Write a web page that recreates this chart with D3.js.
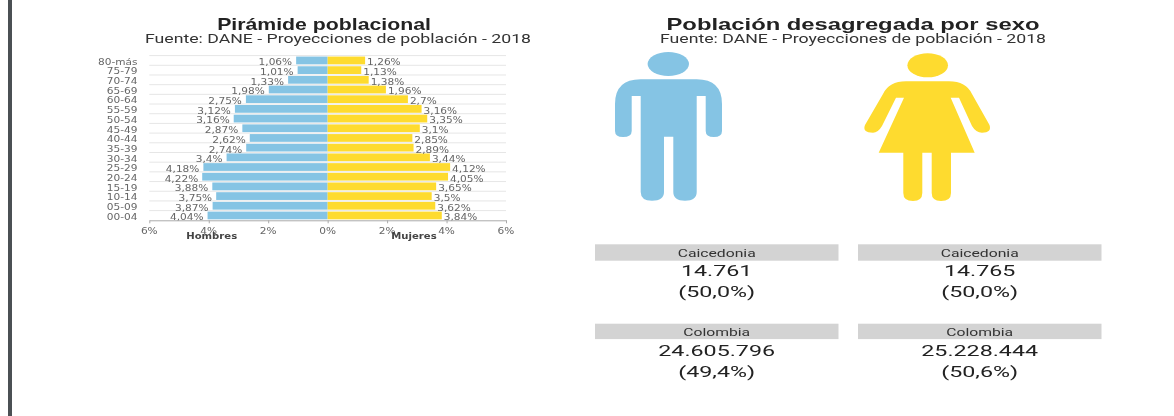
<!DOCTYPE html>
<html><head><meta charset="utf-8">
<script src="https://cdn.jsdelivr.net/npm/d3@7"></script>
<style>html,body{margin:0;padding:0;background:#fff;overflow:hidden}svg{display:block;filter:blur(.35px)}</style>
</head><body><svg id="c" width="1174" height="416"></svg>
<script>
const ageGroups=["80-más","75-79","70-74","65-69","60-64","55-59","50-54","45-49","40-44","35-39","30-34","25-29","20-24","15-19","10-14","05-09","00-04"];
const hombres=[1.06,1.01,1.33,1.98,2.75,3.12,3.16,2.87,2.62,2.74,3.4,4.18,4.22,3.88,3.75,3.87,4.04];
const mujeres=[1.26,1.13,1.38,1.96,2.7,3.16,3.35,3.1,2.85,2.89,3.44,4.12,4.05,3.65,3.5,3.62,3.84];
const xTicks=[-6,-4,-2,0,2,4,6];
const seriesNames=["Hombres","Mujeres"];
const cardLabels=["Caicedonia","Colombia"];
const hombresTotals=["14.761","24.605.796"];
const hombresPct=["(50,0%)","(49,4%)"];
const mujeresTotals=["14.765","25.228.444"];
const mujeresPct=["(50,0%)","(50,6%)"];
const titles=["Pirámide poblacional","Población desagregada por sexo"];
const subtitle="Fuente: DANE - Proyecciones de población - 2018";

const BLUE="#85c4e4",YEL="#fedb2f";
const svg=d3.select("#c");
const sans="Roboto",lab="'DejaVu Sans'";
function txt(g,s,x,y,o){
  const t=g.append("text").text(s).attr("x",x).attr("y",y)
    .attr("text-anchor",o.anchor||"middle").attr("font-family",o.font||sans)
    .attr("font-size",o.size).attr("font-weight",o.weight||400).attr("fill",o.fill||"#333");
  const n=t.node().getComputedTextLength();
  t.attr("textLength",n*(o.sx||1)).attr("lengthAdjust","spacingAndGlyphs");
  return t;
}
svg.append("rect").attr("x",8).attr("y",0).attr("width",4).attr("height",416).attr("fill","#4b5054");

const g=svg.append("g");
const x=d3.scaleLinear().domain([-6,6]).range([149.3,506]);
const y=d3.scaleBand().domain(ageGroups).range([55.6,220.3]).paddingInner(.2).paddingOuter(.1);
const step=y.step();
g.selectAll("line.g").data(ageGroups).join("line").attr("x1",x(-6)).attr("x2",x(6))
  .attr("y1",d=>y(d)-step*.1).attr("y2",d=>y(d)-step*.1).attr("stroke","#e6e6e6");
g.selectAll("rect.h").data(ageGroups).join("rect").attr("x",(d,i)=>x(-hombres[i])).attr("y",d=>y(d))
  .attr("width",(d,i)=>x(0)-x(-hombres[i])).attr("height",y.bandwidth()).attr("fill",BLUE);
g.selectAll("rect.m").data(ageGroups).join("rect").attr("x",x(0)).attr("y",d=>y(d))
  .attr("width",(d,i)=>x(mujeres[i])-x(0)).attr("height",y.bandwidth()).attr("fill",YEL);
const fmt=v=>String(v).replace(".",",")+"%";
const LS={size:8,font:lab,fill:"#666",sx:1.32};
ageGroups.forEach((d,i)=>{
  const cy=y(d)+y.bandwidth()/2+4.9;
  txt(g,d,137.5,cy-.6,{...LS,anchor:"end"});
  txt(g,fmt(hombres[i]),x(-hombres[i])-4,cy,{...LS,anchor:"end"});
  txt(g,fmt(mujeres[i]),x(mujeres[i])+2,cy,{...LS,anchor:"start"});
});
const axis=g.append("g").attr("transform","translate(0,220.3)")
  .call(d3.axisBottom(x).tickValues(xTicks).tickFormat(()=>"").tickSize(3).tickSizeOuter(0));
axis.selectAll("path,line").attr("stroke","#aaa");
xTicks.forEach(v=>txt(g,Math.abs(v)+"%",x(v),233.6,LS));
txt(g,seriesNames[0],211.7,238.8,{size:8,font:lab,weight:700,fill:"#444",sx:1.26});
txt(g,seriesNames[1],414,238.8,{size:8,font:lab,weight:700,fill:"#444",sx:1.26});

[[324,titles[0],1.25],[853,titles[1],1.4]].forEach(([cx,t,sx])=>{
  txt(svg,t,cx,29.6,{size:17,font:"Liberation Sans",weight:700,fill:"#222",sx});
});
[338,853].forEach(cx=>txt(svg,subtitle,cx,43,{size:13,fill:"#333",sx:1.36}));

const man=d3.path();
man.moveTo(640.7,79.3);man.lineTo(696.7,79.3);man.quadraticCurveTo(722,79.3,722,104);
man.lineTo(722,131);man.quadraticCurveTo(722,137,713.8,137);man.quadraticCurveTo(705.7,137,705.7,131);
man.lineTo(705.7,96);man.lineTo(696.7,96);man.lineTo(696.7,192);man.quadraticCurveTo(696.7,200.7,685,200.7);
man.quadraticCurveTo(673.3,200.7,673.3,192);man.lineTo(673.3,136.7);man.lineTo(664,136.7);man.lineTo(664,192);
man.quadraticCurveTo(664,200.7,652,200.7);man.quadraticCurveTo(640.7,200.7,640.7,192);man.lineTo(640.7,96);
man.lineTo(631.7,96);man.lineTo(631.7,131);man.quadraticCurveTo(631.7,137,623,137);man.quadraticCurveTo(615,137,615,131);
man.lineTo(615,104);man.quadraticCurveTo(615,79.3,640.7,79.3);man.closePath();
svg.append("path").attr("d",man.toString()).attr("fill",BLUE);
svg.append("ellipse").attr("cx",668.3).attr("cy",64).attr("rx",20.7).attr("ry",12).attr("fill",BLUE);

const wom=d3.path();
wom.moveTo(906,81.3);wom.lineTo(949,81.3);wom.quadraticCurveTo(966,81.3,972,94);
wom.lineTo(989.5,125);wom.quadraticCurveTo(992,132.7,982,132.7);wom.quadraticCurveTo(976,132.7,972,126);
wom.lineTo(959,97.7);wom.lineTo(950.7,97.7);wom.lineTo(974.7,152.7);wom.lineTo(951,152.7);wom.lineTo(951,193);
wom.quadraticCurveTo(951,201,941,201);wom.quadraticCurveTo(931.7,201,931.7,193);wom.lineTo(931.7,152.7);
wom.lineTo(922.3,152.7);wom.lineTo(922.3,193);wom.quadraticCurveTo(922.3,201,913,201);wom.quadraticCurveTo(903.3,201,903.3,193);
wom.lineTo(903.3,152.7);wom.lineTo(878.7,152.7);wom.lineTo(904,97.7);wom.lineTo(896,97.7);
wom.lineTo(882,126);wom.quadraticCurveTo(878,132.7,873,132.7);wom.quadraticCurveTo(862,132.7,865,125);
wom.lineTo(883,94);wom.quadraticCurveTo(889,81.3,906,81.3);wom.closePath();
svg.append("path").attr("d",wom.toString()).attr("fill",YEL);
svg.append("ellipse").attr("cx",927.7).attr("cy",65.3).attr("rx",20.3).attr("ry",12).attr("fill",YEL);

const cols=[{x:595,t:hombresTotals,p:hombresPct},{x:858,t:mujeresTotals,p:mujeresPct}];
const rows=[{y:244.3,h:16.4},{y:323.7,h:15.4}];
cols.forEach(c=>rows.forEach((r,i)=>{
  svg.append("rect").attr("x",c.x).attr("y",r.y).attr("width",243.5).attr("height",r.h).attr("fill","#d3d3d3");
  const cx=c.x+121.7;
  txt(svg,cardLabels[i],cx,r.y+12.6,{size:11,fill:"#333",sx:1.43});
  txt(svg,c.t[i],cx,r.y+32,{size:15.5,fill:"#222",sx:1.5});
  txt(svg,c.p[i],cx,r.y+52.8,{size:15.5,fill:"#222",sx:1.5});
}));
</script></body></html>
